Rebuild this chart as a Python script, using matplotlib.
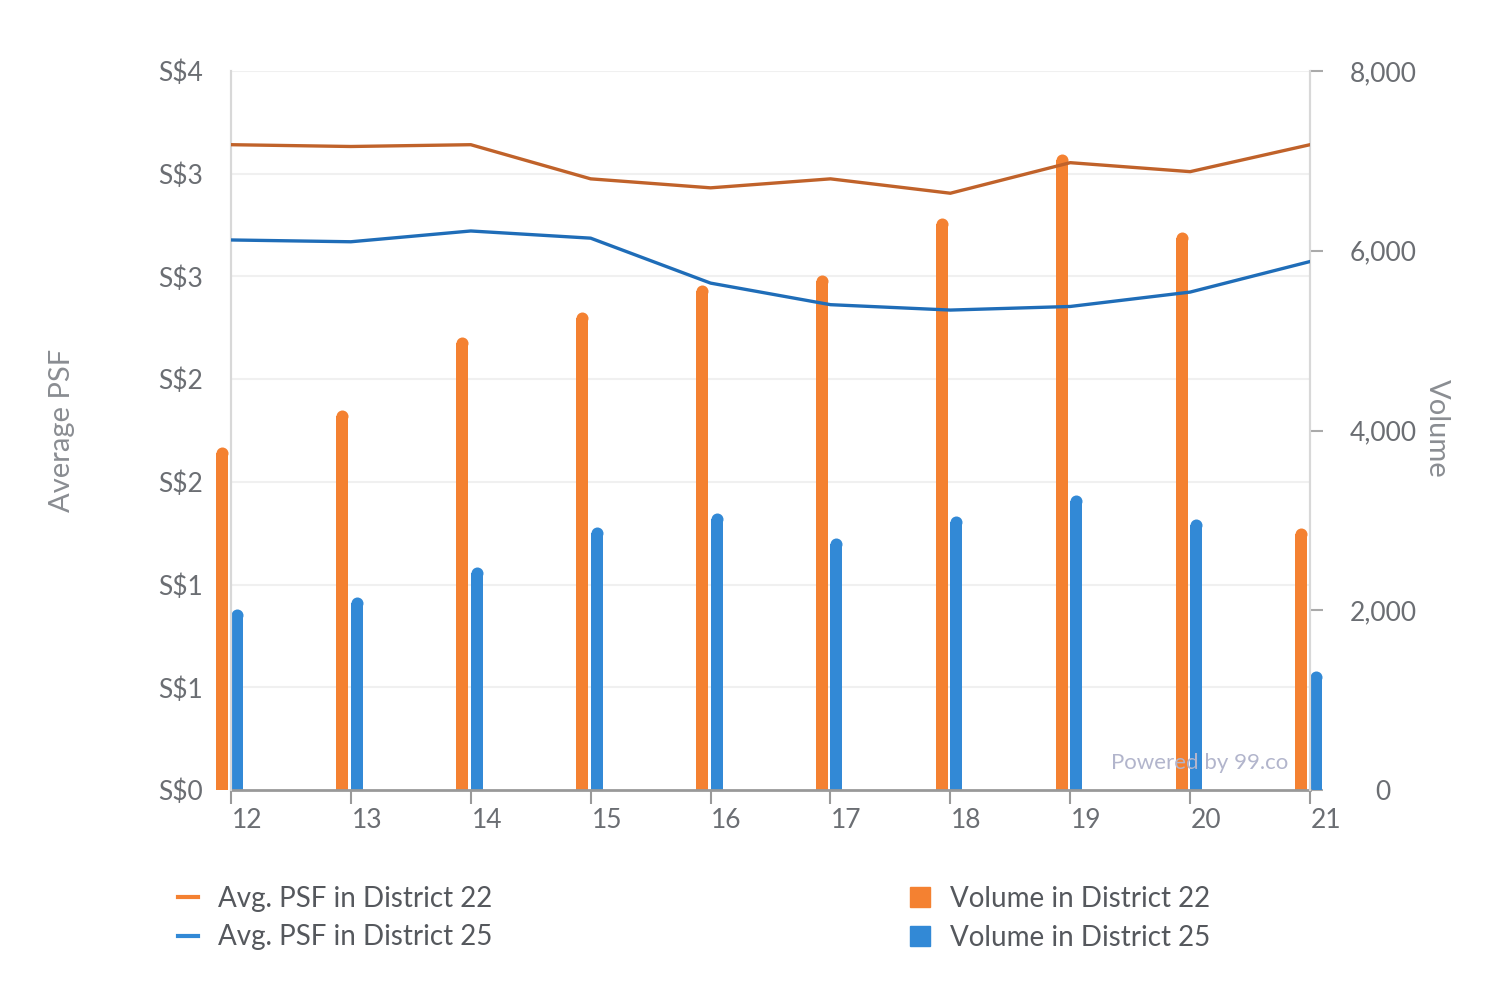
import numpy as np
import matplotlib
matplotlib.use("Agg")
import matplotlib.pyplot as plt
import matplotlib.transforms as mtransforms
from matplotlib.lines import Line2D
from matplotlib.patches import Patch

# data
months = [12, 13, 14, 15, 16, 17, 18, 19, 20, 21]
psf_d22 = [3.59, 3.58, 3.59, 3.40, 3.35, 3.40, 3.32, 3.49, 3.44, 3.59]
psf_d25 = [3.06, 3.05, 3.11, 3.07, 2.82, 2.70, 2.67, 2.69, 2.77, 2.94]
vol_d22 = [3820, 4230, 5040, 5320, 5620, 5730, 6360, 7080, 6210, 2920]
vol_d25 = [2010, 2150, 2480, 2930, 3080, 2800, 3050, 3280, 3020, 1320]

labels_line = ["Avg. PSF in District 22", "Avg. PSF in District 25"]
labels_bar = ["Volume in District 22", "Volume in District 25"]

C_LINE22 = "#c0622a"
C_LINE25 = "#1f6db8"
C_BAR22 = "#f48131"
C_BAR25 = "#3289d6"
C_TEXT = "#6b6e73"
C_GRID = "#f0f0f0"

plt.rcParams["font.family"] = ["Lato", "DejaVu Sans"]

fig = plt.figure(figsize=(15.1, 9.9), dpi=100)
ax2 = fig.add_axes([231 / 1510, 1 - 790 / 990, 1079 / 1510, 719 / 990])
ax = ax2.twinx()
# PSF axis on the left, drawn on top of the bars
ax.yaxis.tick_left()
ax2.yaxis.tick_right()
ax.set_zorder(ax2.get_zorder() + 1)
ax.patch.set_visible(False)

x = np.array(months, dtype=float)
w = 0.1
vmax = 8000
ax2.set_ylim(0, vmax)
ax2.set_xlim(months[0], months[-1])
ax.set_ylim(0, 4)
ax.set_xlim(months[0], months[-1])

# bars with rounded tops
r_px = 6
r_data = r_px * vmax / 719
ms = 2 * r_px * 72 / 100
for off, vals, c in [(-0.071, vol_d22, C_BAR22), (0.05, vol_d25, C_BAR25)]:
    vals = np.array(vals, dtype=float)
    ax2.bar(x + off, vals - r_data, width=w, color=c, clip_on=False, zorder=2, linewidth=0)
    ax2.plot(x + off, vals - r_data, "o", ms=ms, color=c, markeredgewidth=0,
             clip_on=False, zorder=2)

ax.plot(x, psf_d22, color=C_LINE22, lw=2.4, zorder=3)
ax.plot(x, psf_d25, color=C_LINE25, lw=2.4, zorder=3)

# grid lines follow the left axis ticks (8 ticks)
ax2.set_yticks(np.linspace(0, vmax, 8), minor=True)
ax2.grid(True, which="minor", axis="y", color=C_GRID, lw=1.5, zorder=0)
ax2.tick_params(axis="y", which="minor", length=0)

# left axis
psf_ticks = np.linspace(0, 4, 8)
ax.set_yticks(psf_ticks)
ax.set_yticklabels([f"S${v:.0f}" for v in psf_ticks])
ax.tick_params(axis="y", length=0, pad=20, labelsize=19, labelcolor=C_TEXT)

# right axis
ax2.set_yticks([0, 2000, 4000, 6000, 8000])
ax2.set_yticklabels(["0", "2,000", "4,000", "6,000", "8,000"])
ax2.tick_params(axis="y", which="major", length=9, width=1.5, color="#aaaaaa",
                pad=24, labelsize=19, labelcolor=C_TEXT)
for t in ax2.get_yticklabels():
    t.set_horizontalalignment("center")
    t.set_transform(t.get_transform() + mtransforms.ScaledTranslation(0.27, 0, fig.dpi_scale_trans))

fig.text(62 / 1510, 1 - 430 / 990, "Average PSF", rotation=90, ha="center", va="center",
         fontsize=21, color="#8a8d92")
fig.text(1437 / 1510, 1 - 428 / 990, "Volume", rotation=270, ha="center", va="center",
         fontsize=21, color="#8a8d92")

# x axis
ax2.set_xticks(months)
ax2.set_xticklabels([str(m) for m in months])
ax2.tick_params(axis="x", length=10, width=1.5, color="#999999", pad=3,
                labelsize=19, labelcolor=C_TEXT)
for t in ax2.get_xticklabels():
    t.set_transform(t.get_transform() + mtransforms.ScaledTranslation(0.16, 0, fig.dpi_scale_trans))
ax.tick_params(axis="x", length=0, labelbottom=False)

for a in (ax, ax2):
    a.spines["top"].set_visible(False)
    a.spines["left"].set_color("#d8d8d8")
    a.spines["right"].set_color("#d8d8d8")
    a.spines["left"].set_linewidth(1.5)
    a.spines["right"].set_linewidth(1.5)
ax2.spines["bottom"].set_color("#999999")
ax2.spines["bottom"].set_linewidth(2)
ax.spines["bottom"].set_visible(False)
ax2.spines["bottom"].set_zorder(4)

ax.axhline(4, color=C_GRID, lw=1.5, zorder=0)

ax.text(0.98, 0.037, "Powered by 99.co", transform=ax.transAxes, ha="right",
        va="center", fontsize=16, color="#b2b5cc", zorder=5)

# legends
line_handles = [Line2D([], [], color=C_BAR22, lw=3), Line2D([], [], color=C_BAR25, lw=3)]
bar_handles = [Patch(color=C_BAR22), Patch(color=C_BAR25)]
leg_kw = dict(frameon=False, loc="upper left", fontsize=20, labelcolor="#55585d",
              borderpad=0, borderaxespad=0, handletextpad=0.72, labelspacing=0.45)
fig.legend(line_handles, labels_line, bbox_to_anchor=(178 / 1510, 1 - 886 / 990),
           handlelength=0.72, **leg_kw)
fig.legend(bar_handles, labels_bar, bbox_to_anchor=(910 / 1510, 1 - 886 / 990),
           handlelength=0.72, handleheight=0.72, **leg_kw)

fig.savefig("out.png", dpi=100)
